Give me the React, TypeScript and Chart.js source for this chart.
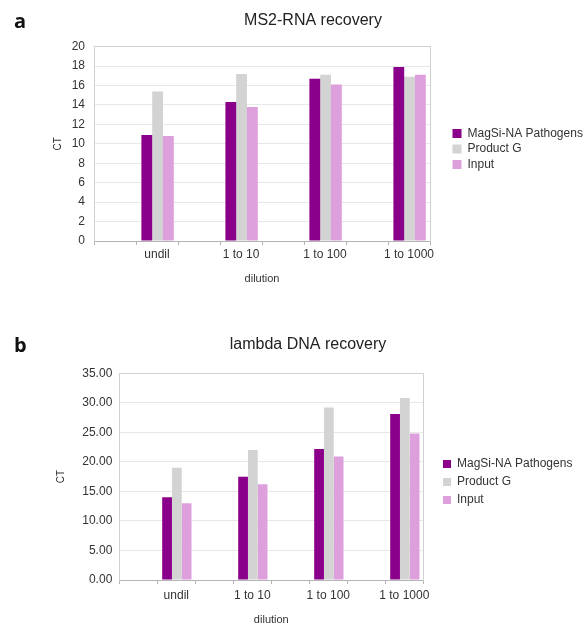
import React, { useEffect, useRef } from 'react';
import { Chart, registerables } from 'chart.js';

Chart.register(...registerables);

// ---------- data ----------
const categories = ['undil', '1 to 10', '1 to 100', '1 to 1000'];
const seriesNames = ['MagSi-NA Pathogens', 'Product G', 'Input'];
const seriesColors = ['#8b008b', '#d3d3d3', '#dda0dd'];

const ms2MagSi = [10.9, 14.3, 16.7, 17.9];
const ms2ProductG = [15.4, 17.2, 17.1, 16.9];
const ms2Input = [10.8, 13.8, 16.1, 17.1];

const lambdaMagSi = [14.0, 17.5, 22.2, 28.1];
const lambdaProductG = [19.0, 22.0, 29.2, 30.8];
const lambdaInput = [13.0, 16.2, 20.9, 24.8];

const ms2Title = 'MS2-RNA recovery';
const lambdaTitle = 'lambda DNA recovery';
const yAxisTitle = 'CT';
const xAxisTitle = 'dilution';
const ms2YMax = 20;
const ms2YStep = 2;
const lambdaYMax = 35;
const lambdaYStep = 5;

const FONT = "'Liberation Sans', Arial, sans-serif";
const PLACEHOLDERS = 4; // empty slots that push each group to the right of its category

type Spec = {
  title: string;
  values: number[][];
  yMax: number;
  yStep: number;
  decimals: number;
  H: number;
  plotLeft: number;
  plotRight: number;
  plotTop: number;
  plotBottom: number;
  titleCX: number;
  titleCY: number;
  legendPad: number;
  legendBox: number;
  legendBoxX: number;
  ctCX: number;
  dilCY: number;
  xLabelCY: number;
  yLabelGap: number;
};

const centerTicks = {
  id: 'centerTicks',
  afterDraw(chart: any) {
    const xs = chart.scales.x;
    const ctx = chart.ctx;
    ctx.save();
    ctx.strokeStyle = '#b3b3b3';
    ctx.lineWidth = 1;
    for (let i = 0; i < categories.length; i++) {
      const px = Math.round(xs.getPixelForValue(i)) + 0.5;
      ctx.beginPath();
      ctx.moveTo(px, xs.top);
      ctx.lineTo(px, xs.top + 4);
      ctx.stroke();
    }
    ctx.restore();
  },
};

function measure(text: string, font: string) {
  const c = document.createElement('canvas');
  const ctx = c.getContext('2d')!;
  ctx.font = font;
  return ctx.measureText(text).width;
}

function BarChart({ spec, top }: { spec: Spec; top: number }) {
  const ref = useRef<HTMLCanvasElement | null>(null);

  useEffect(() => {
    const canvas = ref.current!;
    const legendFont = 12;
    const textW = Math.max(...seriesNames.map((n) => measure(n, `${legendFont}px ${FONT}`)));
    const legendLeft = spec.legendBoxX - spec.legendPad;
    const legendRight = spec.legendBoxX + spec.legendBox + legendFont / 2 + textW + 10;
    const gap = legendLeft - spec.plotRight;
    const padL = 2 * spec.titleCX - legendRight;
    const W = Math.ceil(legendRight);
    const padR = W - legendRight;
    const yWidth = spec.plotLeft - padL;
    const xHeight = spec.H - spec.plotBottom;

    canvas.width = W;
    canvas.height = spec.H;
    canvas.style.width = W + 'px';
    canvas.style.height = spec.H + 'px';

    const placeholders = Array.from({ length: PLACEHOLDERS }, () => ({
      label: '',
      data: categories.map(() => null),
      backgroundColor: 'rgba(0,0,0,0)',
      yAxisID: 'y',
      xAxisID: 'x',
    }));
    const real = seriesNames.map((name, i) => ({
      label: name,
      data: spec.values[i],
      backgroundColor: seriesColors[i],
      borderWidth: 0,
      yAxisID: 'y',
      xAxisID: 'x',
    }));

    const chart = new Chart(canvas, {
      type: 'bar',
      data: { labels: categories, datasets: [...placeholders, ...real] as any },
      plugins: [centerTicks],
      options: {
        animation: false,
        responsive: false,
        devicePixelRatio: 1,
        layout: { padding: { left: padL, right: padR, top: 0, bottom: 0 } },
        datasets: { bar: { categoryPercentage: 0.9, barPercentage: 1.0 } },
        scales: {
          x: {
            type: 'category',
            offset: true,
            grid: {
              display: true,
              offset: true,
              drawOnChartArea: false,
              drawTicks: true,
              tickLength: 4,
              color: '#b3b3b3',
            },
            border: { display: true, color: '#b3b3b3' },
            ticks: {
              color: '#333333',
              font: { family: FONT, size: 12 },
              padding: spec.xLabelCY - spec.plotBottom - 4 - 7.2,
              labelOffset: (spec.plotRight - spec.plotLeft) / categories.length / 4,
              maxRotation: 0,
              autoSkip: false,
            },
            title: {
              display: true,
              text: xAxisTitle,
              color: '#333333',
              font: { family: FONT, size: 11 },
              padding: { top: 0, bottom: spec.H - spec.dilCY - 6.6 },
            },
            afterFit: (s: any) => {
              s.height = xHeight;
            },
          },
          y: {
            type: 'linear',
            position: 'left',
            min: 0,
            max: spec.yMax,
            ticks: {
              stepSize: spec.yStep,
              color: '#333333',
              font: { family: FONT, size: 12 },
              padding: spec.yLabelGap,
              callback: (v: any) => Number(v).toFixed(spec.decimals),
            },
            grid: {
              drawTicks: false,
              color: (c: any) => (c.tick && c.tick.value === spec.yMax ? '#d0d0d0' : '#e8e8e8'),
            },
            border: { display: true, color: '#d0d0d0' },
            title: {
              display: true,
              text: yAxisTitle,
              color: '#333333',
              font: { family: FONT, size: 10 },
              padding: { top: spec.ctCX - padL - 6, bottom: 0 },
            },
            afterFit: (s: any) => {
              s.width = yWidth;
            },
          },
          gap: {
            type: 'linear',
            position: 'right',
            display: true,
            grid: { display: false, drawTicks: false },
            ticks: { display: false },
            border: { display: true, color: '#d0d0d0' },
            afterFit: (s: any) => {
              s.width = gap;
            },
          },
        } as any,
        plugins: {
          title: {
            display: true,
            text: spec.title,
            color: '#222222',
            font: { family: FONT, size: 16, weight: 'normal' },
            padding: { top: spec.titleCY - 9.6, bottom: spec.plotTop - spec.titleCY - 9.6 },
          },
          legend: {
            display: true,
            position: 'right',
            align: 'center',
            maxWidth: Math.ceil(legendRight - legendLeft) + 2,
            labels: {
              boxWidth: spec.legendBox,
              boxHeight: spec.legendBox,
              padding: spec.legendPad,
              color: '#333333',
              font: { family: FONT, size: legendFont },
              filter: (item: any) => item.datasetIndex >= PLACEHOLDERS,
            },
          },
          tooltip: { enabled: false },
        },
      } as any,
    });
    return () => chart.destroy();
  }, [spec]);

  return <canvas ref={ref} style={{ position: 'absolute', left: 0, top, display: 'block' }} />;
}

const specA: Spec = {
  title: ms2Title,
  values: [ms2MagSi, ms2ProductG, ms2Input],
  yMax: ms2YMax,
  yStep: ms2YStep,
  decimals: 0,
  H: 298,
  plotLeft: 94,
  plotRight: 430,
  plotTop: 46.7,
  plotBottom: 241,
  titleCX: 313,
  titleCY: 21,
  legendPad: 3.5,
  legendBox: 9,
  legendBoxX: 452.5,
  ctCX: 58,
  dilCY: 279,
  xLabelCY: 255,
  yLabelGap: 9,
};

const specB: Spec = {
  title: lambdaTitle,
  values: [lambdaMagSi, lambdaProductG, lambdaInput],
  yMax: lambdaYMax,
  yStep: lambdaYStep,
  decimals: 2,
  H: 324,
  plotLeft: 119.3,
  plotRight: 423.3,
  plotTop: 53.3,
  plotBottom: 260,
  titleCX: 308,
  titleCY: 25,
  legendPad: 6,
  legendBox: 8,
  legendBoxX: 443,
  ctCX: 61.5,
  dilCY: 300,
  xLabelCY: 276,
  yLabelGap: 7,
};

const letterStyle: React.CSSProperties = {
  position: 'absolute',
  left: 14,
  fontFamily: "'Open Sans', sans-serif",
  fontWeight: 'bold',
  fontSize: 20,
  lineHeight: '20px',
  color: '#111',
};

export default function App() {
  return (
    <div
      style={{
        position: 'fixed',
        left: 0,
        top: 0,
        width: 586,
        height: 625,
        overflow: 'hidden',
        background: '#ffffff',
      }}
    >
      <BarChart spec={specA} top={0} />
      <BarChart spec={specB} top={320} />
      <div style={{ ...letterStyle, top: 11 }}>a</div>
      <div style={{ ...letterStyle, top: 335 }}>b</div>
    </div>
  );
}
